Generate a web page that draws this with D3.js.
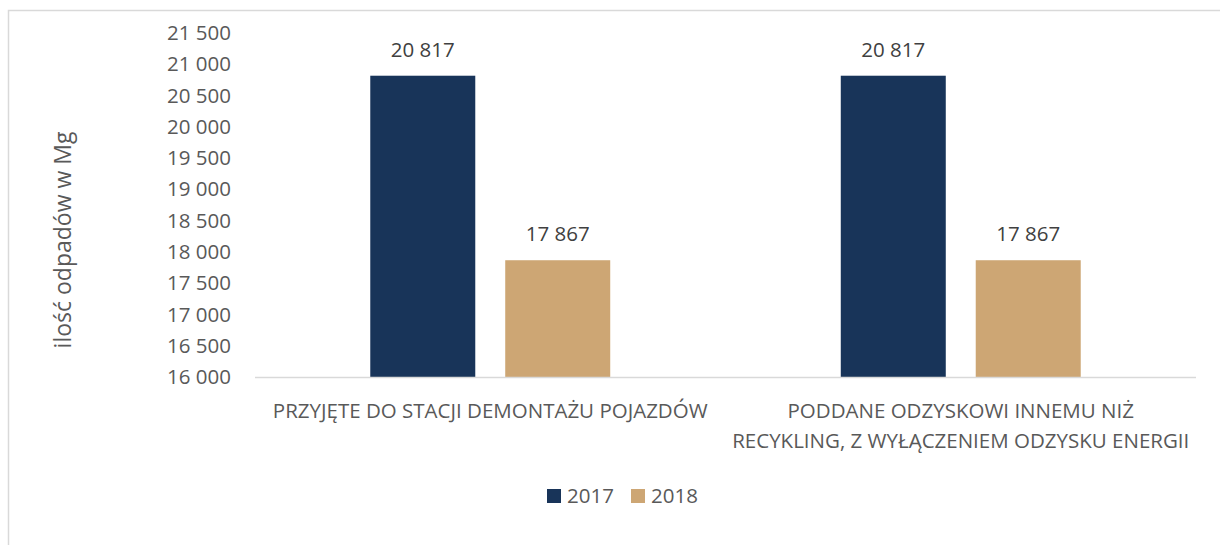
<!DOCTYPE html>
<html>
<head>
<meta charset="utf-8">
<script src="https://cdn.jsdelivr.net/npm/d3@7"></script>
<style>
  body { margin: 0; background: #fff; }
  text { font-family: "Open Sans", sans-serif; }
</style>
</head>
<body>
<div id="chart"></div>
<script>
// Data
const categories = [
  ["PRZYJĘTE DO STACJI DEMONTAŻU POJAZDÓW"],
  ["PODDANE ODZYSKOWI INNEMU NIŻ", "RECYKLING, Z WYŁĄCZENIEM ODZYSKU ENERGII"]
];
const series = ["2017", "2018"];
const values2017 = [20817, 20817];
const values2018 = [17867, 17867];
const yTicks = [16000, 16500, 17000, 17500, 18000, 18500, 19000, 19500, 20000, 20500, 21000, 21500];

const colors = { "2017": "#183459", "2018": "#cda674" };

const W = 1220, H = 545;
const plot = { left: 255, right: 1196, top: 33, bottom: 377 };

const locale = d3.formatLocale({ decimal: ",", thousands: " ", grouping: [3], currency: ["", ""] });
const fmt = locale.format(",d");

const svg = d3.select("#chart").append("svg")
    .attr("width", W)
    .attr("height", H);

// Chart border (only top and left visible in the frame)
svg.append("rect")
    .attr("x", 8.5).attr("y", 10.5)
    .attr("width", 1400).attr("height", 800)
    .attr("fill", "none")
    .attr("stroke", "#d9d9d9")
    .attr("stroke-width", 1.5);

// Scales
const x0 = d3.scaleBand()
    .domain(categories.map((d, i) => i))
    .range([plot.left, plot.right])
    .padding(0);

const bw = x0.bandwidth();
const x1 = d3.scaleBand()
    .domain(series)
    .range([bw * 0.245, bw * 0.755])
    .paddingInner(0.222);

const y = d3.scaleLinear()
    .domain([16000, 21500])
    .range([plot.bottom, plot.top]);

// Y axis (labels only)
const yAxis = svg.append("g")
    .attr("transform", `translate(${plot.left},0)`)
    .call(d3.axisLeft(y).tickValues(yTicks).tickSize(0).tickPadding(24).tickFormat(fmt));
yAxis.select(".domain").remove();
yAxis.selectAll("text")
    .attr("fill", "#595959")
    .style("font-size", "20.5px");

// Y axis title
svg.append("text")
    .attr("transform", "translate(71, 240) rotate(-90)")
    .attr("text-anchor", "middle")
    .attr("fill", "#595959")
    .style("font-size", "23px")
    .text("ilość odpadów w Mg");

// Bars
const rows = categories.map((c, i) => ({ i, vals: [values2017[i], values2018[i]] }));
const groups = svg.selectAll(".group")
    .data(rows)
    .enter().append("g")
    .attr("class", "group")
    .attr("transform", d => `translate(${x0(d.i)},0)`);

groups.selectAll("rect")
    .data(d => series.map((s, k) => ({ s, v: d.vals[k] })))
    .enter().append("rect")
    .attr("x", d => x1(d.s))
    .attr("y", d => y(d.v))
    .attr("width", x1.bandwidth())
    .attr("height", d => y(16000) - y(d.v))
    .attr("fill", d => colors[d.s]);

// Data labels
groups.selectAll(".lbl")
    .data(d => series.map((s, k) => ({ s, v: d.vals[k] })))
    .enter().append("text")
    .attr("class", "lbl")
    .attr("x", d => x1(d.s) + x1.bandwidth() / 2)
    .attr("y", d => y(d.v) - 19)
    .attr("text-anchor", "middle")
    .attr("fill", "#404040")
    .style("font-size", "20.5px")
    .text(d => fmt(d.v));

// Category axis line
svg.append("line")
    .attr("x1", plot.left).attr("x2", plot.right)
    .attr("y1", plot.bottom + 0.5).attr("y2", plot.bottom + 0.5)
    .attr("stroke", "#d9d9d9")
    .attr("stroke-width", 1.5);

// Category labels
categories.forEach((lines, i) => {
    const t = svg.append("text")
        .attr("text-anchor", "middle")
        .attr("fill", "#595959")
        .style("font-size", "20.5px");
    lines.forEach((ln, j) => {
        t.append("tspan")
            .attr("x", x0(i) + bw / 2)
            .attr("y", 418 + j * 30)
            .text(ln);
    });
});

// Legend
const legend = svg.append("g").attr("transform", "translate(547,489)");
const legendX = [0, 84];
series.forEach((s, k) => {
    const g = legend.append("g").attr("transform", `translate(${legendX[k]},0)`);
    g.append("rect").attr("width", 14).attr("height", 14).attr("fill", colors[s]);
    g.append("text")
        .attr("x", 20).attr("y", 14)
        .attr("fill", "#595959")
        .style("font-size", "20.5px")
        .text(s);
});
</script>
</body>
</html>
